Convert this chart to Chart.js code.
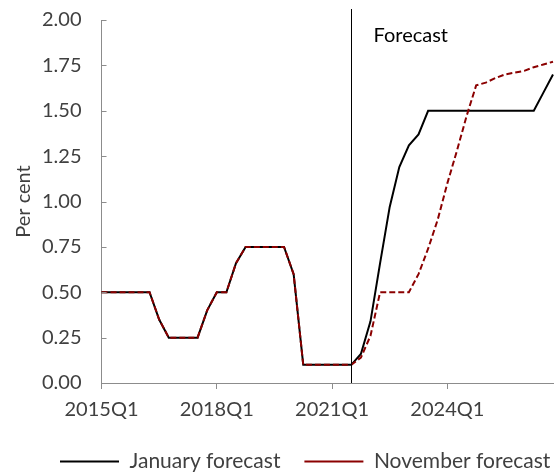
<!DOCTYPE html>
<html>
<head>
<meta charset="utf-8">
<script src="https://cdn.jsdelivr.net/npm/chart.js@4"></script>
<style>
  html, body { margin: 0; padding: 0; background: #fff; }
  #wrap { width: 559px; height: 475px; }
</style>
</head>
<body>
<div id="wrap"><canvas id="chart" width="559" height="475"></canvas></div>
<script>
// Quarterly periods on the horizontal axis
const quarters = [
  '2015Q1','2015Q2','2015Q3','2015Q4','2016Q1','2016Q2','2016Q3','2016Q4',
  '2017Q1','2017Q2','2017Q3','2017Q4','2018Q1','2018Q2','2018Q3','2018Q4',
  '2019Q1','2019Q2','2019Q3','2019Q4','2020Q1','2020Q2','2020Q3','2020Q4',
  '2021Q1','2021Q2','2021Q3','2021Q4','2022Q1','2022Q2','2022Q3','2022Q4',
  '2023Q1','2023Q2','2023Q3','2023Q4','2024Q1','2024Q2','2024Q3','2024Q4',
  '2025Q1','2025Q2','2025Q3','2025Q4','2026Q1','2026Q2','2026Q3','2026Q4'
];

// Labelled quarters on the x axis
const xTickLabels = ['2015Q1', '2018Q1', '2021Q1', '2024Q1'];

// First forecast quarter (vertical marker)
const forecastStart = '2021Q3';

// Interest rate path, per cent
const januaryForecast = [
  0.50, 0.50, 0.50, 0.50, 0.50, 0.50, 0.35, 0.25,
  0.25, 0.25, 0.25, 0.40, 0.50, 0.50, 0.66, 0.75,
  0.75, 0.75, 0.75, 0.75, 0.60, 0.10, 0.10, 0.10,
  0.10, 0.10, 0.10, 0.16, 0.34, 0.66, 0.97, 1.19,
  1.31, 1.37, 1.50, 1.50, 1.50, 1.50, 1.50, 1.50,
  1.50, 1.50, 1.50, 1.50, 1.50, 1.50, 1.60, 1.70
];

const novemberForecast = [
  0.50, 0.50, 0.50, 0.50, 0.50, 0.50, 0.35, 0.25,
  0.25, 0.25, 0.25, 0.40, 0.50, 0.50, 0.66, 0.75,
  0.75, 0.75, 0.75, 0.75, 0.60, 0.10, 0.10, 0.10,
  0.10, 0.10, 0.10, 0.14, 0.26, 0.50, 0.50, 0.50,
  0.50, 0.60, 0.74, 0.90, 1.10, 1.28, 1.47, 1.64,
  1.655, 1.68, 1.70, 1.71, 1.72, 1.74, 1.755, 1.77
];

const FONT = 'Lato, "Open Sans", sans-serif';
const TEXT_GREY = '#404040';
const AXIS_GREY = '#8c8c8c';

// Vertical line at the start of the forecast with its caption
const forecastMarker = {
  id: 'forecastMarker',
  afterDatasetsDraw(chart) {
    const { ctx, chartArea, scales } = chart;
    const x = Math.round(scales.x.getPixelForValue(quarters.indexOf(forecastStart))) + 0.5;
    ctx.save();
    ctx.strokeStyle = '#000';
    ctx.lineWidth = 1;
    ctx.beginPath();
    ctx.moveTo(x, chartArea.top - 11);
    ctx.lineTo(x, chartArea.bottom);
    ctx.stroke();
    ctx.fillStyle = '#000';
    ctx.font = '20px ' + FONT;
    ctx.textAlign = 'left';
    ctx.textBaseline = 'alphabetic';
    ctx.fillText('Forecast', x + 22, chartArea.top + 22);
    ctx.restore();
  }
};

// Inward tick marks on the value axis
const yInnerTicks = {
  id: 'yInnerTicks',
  afterDraw(chart) {
    const { ctx, scales } = chart;
    const y = scales.y;
    ctx.save();
    ctx.strokeStyle = AXIS_GREY;
    ctx.lineWidth = 1;
    ctx.beginPath();
    y.ticks.forEach((t) => {
      const py = Math.round(y.getPixelForValue(t.value)) + 0.5;
      ctx.moveTo(y.right, py);
      ctx.lineTo(y.right + 5, py);
    });
    ctx.stroke();
    ctx.restore();
  }
};

// Place the legend row under the plot
const legendPlacement = {
  id: 'legendPlacement',
  afterLayout(chart) {
    const lg = chart.legend;
    const dx = 28, dy = -4;
    lg.left += dx; lg.right += dx;
    lg.top += dy; lg.bottom += dy;
  }
};

new Chart(document.getElementById('chart'), {
  type: 'line',
  data: {
    labels: quarters,
    datasets: [
      {
        label: 'January forecast',
        data: januaryForecast,
        borderColor: '#000000',
        backgroundColor: '#000000',
        borderWidth: 2,
        pointRadius: 0,
        tension: 0,
        order: 1
      },
      {
        label: 'November forecast',
        data: novemberForecast,
        borderColor: '#8b0000',
        backgroundColor: '#8b0000',
        borderWidth: 2,
        borderDash: [6, 3],
        pointRadius: 0,
        tension: 0,
        order: 0
      }
    ]
  },
  options: {
    responsive: false,
    animation: false,
    layout: { padding: { left: 8, right: 6, top: 20, bottom: -11 } },
    plugins: {
      tooltip: { enabled: false },
      legend: {
        position: 'bottom',
        align: 'start',
        labels: {
          usePointStyle: true,
          pointStyle: 'line',
          pointStyleWidth: 59,
          padding: 24,
          color: TEXT_GREY,
          font: { family: FONT, size: 21 },
          sort: (a, b) => a.datasetIndex - b.datasetIndex
        }
      }
    },
    scales: {
      x: {
        type: 'category',
        offset: false,
        border: { display: true, color: AXIS_GREY, width: 1 },
        grid: {
          drawOnChartArea: false,
          drawTicks: true,
          tickLength: 6,
          tickColor: (c) => (c.tick && xTickLabels.includes(quarters[c.index])) ? AXIS_GREY : 'rgba(0,0,0,0)'
        },
        ticks: {
          autoSkip: false,
          maxRotation: 0,
          minRotation: 0,
          padding: 9,
          color: TEXT_GREY,
          font: { family: FONT, size: 20 },
          callback: (v, i) => xTickLabels.includes(quarters[i]) ? quarters[i] : ''
        },
        afterFit: (scale) => { scale.paddingRight = 0; }
      },
      y: {
        min: 0,
        max: 2,
        border: { display: true, color: AXIS_GREY, width: 1 },
        grid: {
          drawOnChartArea: false,
          drawTicks: true,
          tickLength: 20,
          tickColor: 'rgba(0,0,0,0)'
        },
        ticks: {
          stepSize: 0.25,
          padding: 0,
          color: TEXT_GREY,
          font: { family: FONT, size: 20 },
          callback: (v) => Number(v).toFixed(2)
        },
        title: {
          display: true,
          text: 'Per cent',
          color: TEXT_GREY,
          font: { family: FONT, size: 20 },
          padding: { top: 4, bottom: 6 }
        }
      }
    }
  },
  plugins: [forecastMarker, yInnerTicks, legendPlacement]
});
</script>
</body>
</html>
